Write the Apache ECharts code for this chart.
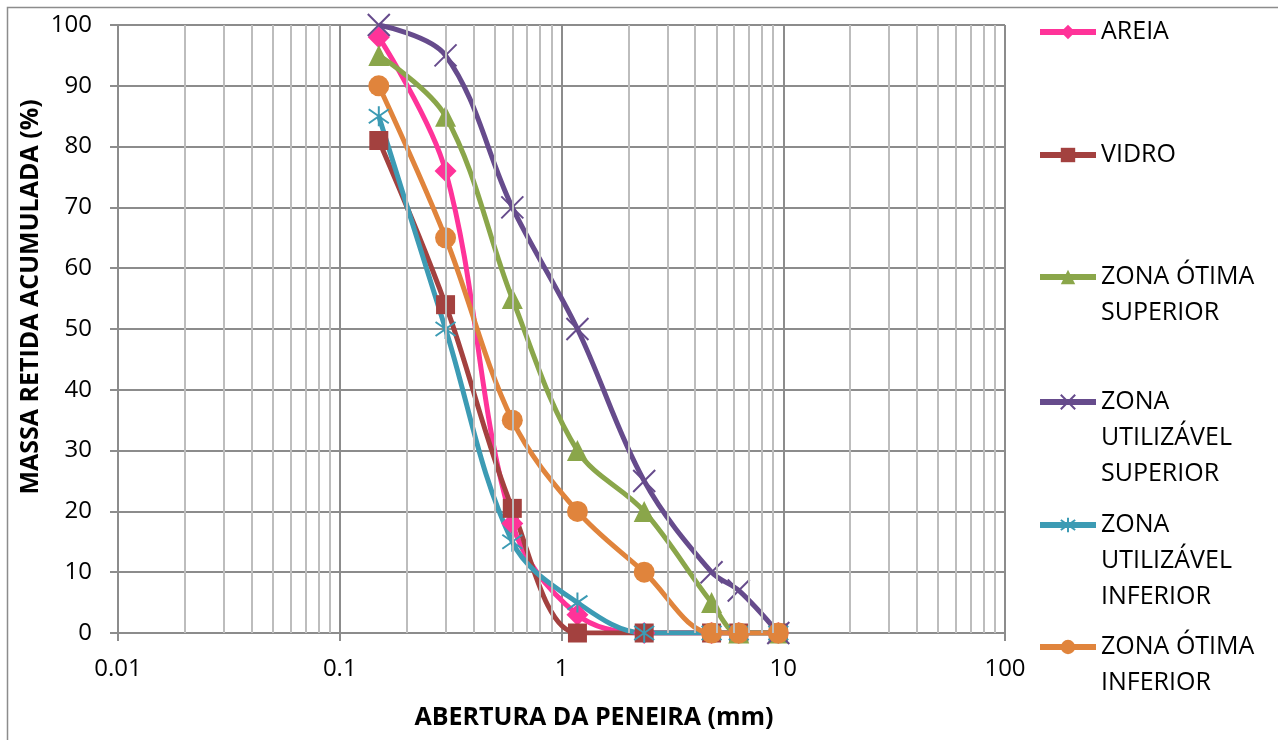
<!DOCTYPE html>
<html lang="pt">
<head>
    <meta charset="UTF-8">
    <title>Curva granulométrica</title>
    <style>
        html, body { margin: 0; height: 100%; background: #fff; }
        #main { width: 1278px; height: 740px; }
    </style>
    <script src="https://cdn.jsdelivr.net/npm/echarts@6/dist/echarts.min.js"></script>
</head>
<body>
<div id="main"></div>
<script>
    // aberturas das peneiras (mm)
    var peneiras = [0.15, 0.3, 0.6, 1.18, 2.36, 4.75, 6.3, 9.5];

    var areia        = [98, 76, 18, 3, 0, 0, 0, 0];
    var vidro        = [81, 54, 20.5, 0, 0, 0, 0, 0];
    var otimaSup     = [95, 85, 55, 30, 20, 5, 0, 0];
    var utilizavelSup = [100, 95, 70, 50, 25, 10, 7, 0];
    var utilizavelInf = [85, 50, 15, 5, 0, 0, 0, 0];
    var otimaInf     = [90, 65, 35, 20, 10, 0, 0, 0];

    var nomes = ['AREIA', 'VIDRO', 'ZONA ÓTIMA SUPERIOR', 'ZONA UTILIZÁVEL SUPERIOR',
                 'ZONA UTILIZÁVEL INFERIOR', 'ZONA ÓTIMA INFERIOR'];

    var fonte = 'Open Sans';
    var chart = echarts.init(document.getElementById('main'));

    function pares(vals) {
        return peneiras.map(function (p, i) { return [p, vals[i]]; });
    }

    // linhas de grade secundárias (2..9 em cada década)
    var minorLines = [];
    [0.01, 0.1, 1, 10].forEach(function (d) {
        for (var k = 2; k <= 9; k++) minorLines.push({ xAxis: +(d * k).toPrecision(3) });
    });

    var xPath = 'path://M0,0L10,10M10,0L0,10';
    var starPath = 'path://M5,0L5,10M0,1.5L10,8.5M10,1.5L0,8.5';

    function serie(nome, vals, cor, simbolo, tam, stroke) {
        return {
            name: nome,
            type: 'line',
            data: pares(vals),
            smooth: 0.35,
            symbol: simbolo,
            symbolSize: tam,
            showAllSymbol: true,
            lineStyle: { color: cor, width: 5 },
            itemStyle: stroke ? { color: 'rgba(0,0,0,0)', borderColor: cor, borderWidth: 2 } : { color: cor },
            emphasis: { disabled: true },
            z: 3
        };
    }

    // legenda: texto quebrado em linhas; linhas vazias centram o ícone na primeira linha
    var rotulos = {
        'AREIA': 'AREIA',
        'VIDRO': 'VIDRO',
        'ZONA ÓTIMA SUPERIOR': ' \nZONA ÓTIMA\nSUPERIOR',
        'ZONA UTILIZÁVEL SUPERIOR': ' \n \nZONA\nUTILIZÁVEL\nSUPERIOR',
        'ZONA UTILIZÁVEL INFERIOR': ' \n \nZONA\nUTILIZÁVEL\nINFERIOR',
        'ZONA ÓTIMA INFERIOR': ' \nZONA ÓTIMA\nINFERIOR'
    };
    var centros = [32, 155, 277, 402, 525, 647];
    var linhas = [1, 1, 3, 5, 5, 3];
    var lh = 36;

    var legends = nomes.map(function (n, i) {
        return {
            data: [n],
            orient: 'vertical',
            left: 1037,
            top: centros[i] - linhas[i] * lh / 2,
            padding: 0,
            itemWidth: 56,
            itemHeight: 18,
            itemGap: 0,
            lineStyle: { width: 6 },
            formatter: function (name) { return rotulos[name]; },
            textStyle: { fontFamily: fonte, fontSize: 25, color: '#000', lineHeight: lh }
        };
    });

    var option = {
        animation: false,
        textStyle: { fontFamily: fonte },
        legend: legends,
        grid: { left: 118, right: 273, top: 25, bottom: 107 },
        graphic: [
            {
                type: 'rect', left: 5, top: 5, z: -10,
                shape: { width: 1300, height: 760 },
                style: { fill: 'none', stroke: '#8c8c8c', lineWidth: 1.5 }
            },
            {
                type: 'text', x: 31, y: 297, rotation: Math.PI / 2,
                style: {
                    text: 'MASSA RETIDA ACUMULADA (%)', fontFamily: fonte, fontWeight: 'bold',
                    fontSize: 25, fill: '#000', align: 'center', verticalAlign: 'middle'
                }
            },
            {
                type: 'text', x: 594, y: 718,
                style: {
                    text: 'ABERTURA DA PENEIRA (mm)', fontFamily: fonte, fontWeight: 'bold',
                    fontSize: 25, fill: '#000', align: 'center', verticalAlign: 'middle'
                }
            }
        ],
        xAxis: {
            type: 'log',
            logBase: 10,
            min: 0.01,
            max: 100,
            axisLine: { show: true, lineStyle: { color: '#8c8c8c', width: 2 } },
            axisTick: { show: true, length: 8, lineStyle: { color: '#8c8c8c', width: 2 } },
            axisLabel: {
                margin: 24, fontSize: 24, color: '#000', fontFamily: fonte,
                formatter: function (v) { return String(+v.toPrecision(3)); }
            },
            splitLine: { show: true, lineStyle: { color: '#8c8c8c', width: 2 } },
            minorTick: { show: false },
            minorSplitLine: { show: false }
        },
        yAxis: {
            type: 'value',
            min: 0,
            max: 100,
            interval: 10,
            axisLine: { show: true, lineStyle: { color: '#8c8c8c', width: 2 } },
            axisTick: { show: true, length: 8, lineStyle: { color: '#8c8c8c', width: 2 } },
            axisLabel: { margin: 26, fontSize: 24, color: '#000', fontFamily: fonte },
            splitLine: { show: true, lineStyle: { color: '#8c8c8c', width: 2 } }
        },
        series: [
            {
                name: 'grade',
                type: 'line',
                data: [],
                silent: true,
                z: 1,
                markLine: {
                    silent: true,
                    symbol: 'none',
                    label: { show: false },
                    lineStyle: { color: '#bdbdbd', width: 2, type: 'solid' },
                    emphasis: { disabled: true },
                    data: minorLines
                }
            },
            serie(nomes[0], areia, '#ff3399', 'diamond', 22),
            serie(nomes[1], vidro, '#a3413f', 'rect', 19),
            serie(nomes[2], otimaSup, '#8aa64a', 'triangle', 21),
            serie(nomes[3], utilizavelSup, '#664b8c', xPath, 22, true),
            serie(nomes[4], utilizavelInf, '#3c9bb4', starPath, 20, true),
            serie(nomes[5], otimaInf, '#e0843c', 'circle', 21)
        ]
    };

    chart.setOption(option);
    window.onresize = function () { chart.resize(); };
</script>
</body>
</html>
